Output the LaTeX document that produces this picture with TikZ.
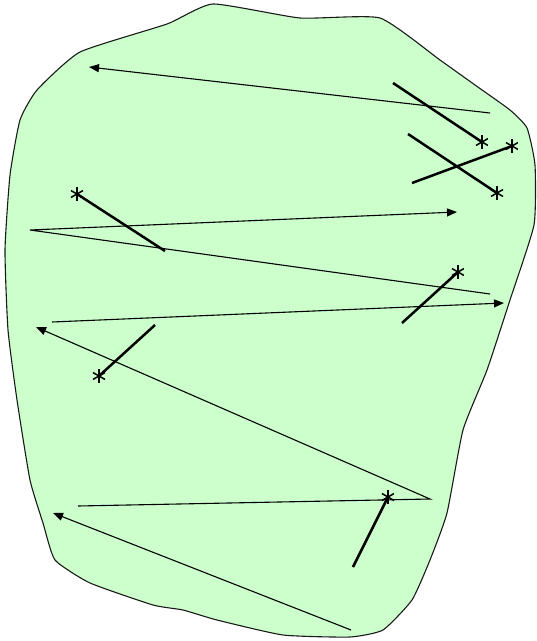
\documentclass[tikz,border=0pt]{standalone}
\usepackage{xcolor}
\usepackage{tikz}
\usetikzlibrary{arrows.meta,positioning}
\definecolor{blobFill}{HTML}{CCFFCC}
\definecolor{inkDark}{HTML}{1A1A1A}

\begin{document}
\begin{tikzpicture}[x=1pt,y=-1pt,>={Triangle[length=10pt,width=8pt]},
  blob/.style={draw=inkDark,line width=1.1pt,fill=blobFill},
  scanline/.style={draw=black,line width=1.1pt},
  stroke/.style={draw=black,line width=2.5pt},
  aster/.style={circle,inner sep=0pt,minimum size=14pt,
    path picture={\foreach \a in {90,30,-30}
      \draw[line width=1.5pt] (path picture bounding box.center) ++(\a:7pt) -- ++(\a+180:14pt);}}]
  \useasboundingbox (0,0) rectangle (537,641);
  % outline of the region
  \draw[blob] plot[smooth cycle,tension=0.3] coordinates {
    (30,480) (17,400) (8,330) (5,250) (10,175) (20,120) (37,90) (80,52)
    (167,24) (213,4) (300,18) (380,18) (440,60) (475,85) (510,110)
    (527,128) (535,165) (534,225) (510,300) (487,370) (463,430) (447,513)
    (430,560) (412,600) (383,630) (350,637) (283,635) (217,620) (183,610)
    (153,605) (90,583) (55,560) (43,523)};
  % scan path
  \coordinate (p1) at (490,113);
  \coordinate (p2) at (89,67);
  \coordinate (p3) at (490,294);
  \coordinate (p4) at (30,230);
  \coordinate (p5) at (457,212);
  \coordinate (p6) at (52,322);
  \coordinate (p7) at (504,303);
  \coordinate (p8) at (78,506);
  \coordinate (p9) at (430,499);
  \coordinate (p10) at (36,327);
  \coordinate (p11) at (351,630);
  \coordinate (p12) at (53,513);
  \draw[scanline,->] (p1) -- (p2);
  \draw[scanline,->] (p3) -- (p4) -- (p5);
  \draw[scanline,->] (p6) -- (p7);
  \draw[scanline,->] (p8) -- (p9) -- (p10);
  \draw[scanline,->] (p11) -- (p12);
  % strokes with star ends
  \foreach \n/\sx/\sy/\ex/\ey in {a/393/83/482/142, b/408/134/497/193,
      c/412/183/512/146, d/165/251/77/194, e/402/323/458/272,
      f/155/325/99/376, g/353/567/388/497} {
    \coordinate (\n0) at (\sx,\sy);
    \node[aster] (\n1) at (\ex,\ey) {};
    \draw[stroke] (\n0) -- (\n1.center);
  }
\end{tikzpicture}
\end{document}
